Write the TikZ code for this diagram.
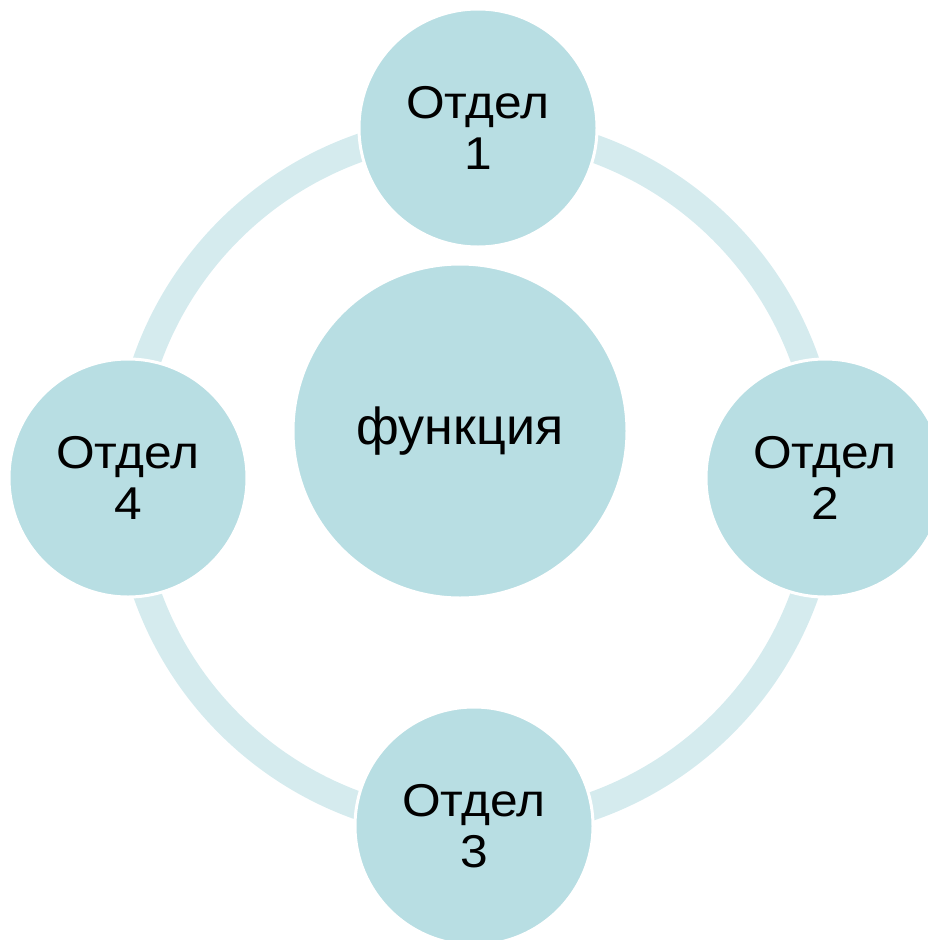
\documentclass[tikz,border=0pt]{standalone}
\usepackage{fontspec}
\setmainfont{Liberation Sans}
\newfontfamily\widefont[FakeStretch=1.08]{Liberation Sans}
\definecolor{circfill}{HTML}{B8DEE3}
\definecolor{ringcol}{HTML}{D5EBEE}
\tikzset{
  px/.style={x=1pt,y=-1pt},
  bubble/.style={circle, fill=circfill, draw=white, line width=3pt, inner sep=0pt,
    align=center, font=\widefont\fontsize{46}{51}\selectfont},
  ring/.style={draw=ringcol, line width=28pt}
}
\begin{document}
\begin{tikzpicture}[px]
\useasboundingbox (0,0) rectangle (928,940);
\coordinate (rc) at (476,477);
\draw[ring] (rc) circle[radius=349];
\node[bubble, minimum size=334pt, font=\fontsize{52}{60}\selectfont] (f) at (460,431) {функция};
\node[bubble, minimum size=238pt] (d1) at (478,128) {Отдел\\1};
\node[bubble, minimum size=238pt] (d2) at (825,478) {Отдел\\2};
\node[bubble, minimum size=238pt] (d3) at (474,826) {Отдел\\3};
\node[bubble, minimum size=238pt] (d4) at (128,478) {Отдел\\4};
\end{tikzpicture}
\end{document}
